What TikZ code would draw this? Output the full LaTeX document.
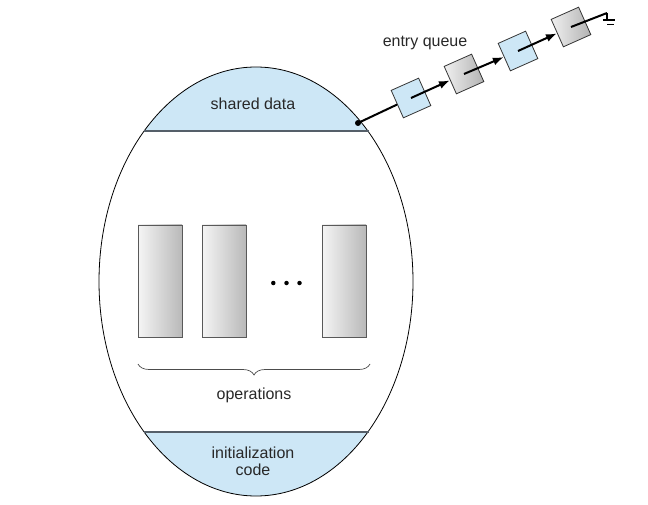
\documentclass[tikz,border=0pt]{standalone}
\usepackage{fontspec}
\setmainfont{Liberation Sans}
\usetikzlibrary{arrows.meta,decorations.pathreplacing,shapes.geometric}
\definecolor{lblue}{RGB}{205,231,246}
\definecolor{txt}{RGB}{40,40,40}
\definecolor{sepline}{RGB}{85,95,105}
\tikzset{
  lbl/.style={text=txt,font=\fontsize{16}{19}\selectfont,align=center},
  oprect/.style={draw=black!65,line width=0.8pt,left color=gray!8,right color=gray!55,minimum width=44,minimum height=112,inner sep=0},
  qbox/.style={draw=black!80,line width=0.8pt,minimum size=30,inner sep=0,rotate=24},
  qblue/.style={qbox,fill=lblue},
  qgray/.style={qbox,left color=gray!12,right color=gray!60},
  qline/.style={line width=2pt,black},
  qarrow/.style={qline,-{Latex[length=11pt,width=8pt]}},
  dotmark/.style={circle,fill=black,inner sep=0,minimum size=4.5},
}
\begin{document}
\begin{tikzpicture}[x=1pt,y=-1pt]
\useasboundingbox (0,0) rectangle (648,505);
% ellipse regions
\begin{scope}
  \clip (256,281.5) ellipse [x radius=157, y radius=214.5];
  \fill[lblue] (90,60) rectangle (420,131);
  \fill[lblue] (90,432) rectangle (420,500);
\end{scope}
\node[draw=black,line width=0.8pt,ellipse,minimum width=314,minimum height=429,inner sep=0] (ell) at (256,281.5) {};
\draw[sepline,line width=1.5pt] (143.5,131) -- (368.5,131);
\draw[sepline,line width=1.5pt] (143.5,432) -- (368.5,432);
\node[lbl] (sd) at (253,104) {shared data};
\node[lbl] (ic) at (253,461) {initialization\\[-2pt]code};
% operations
\node[oprect] (op1) at (160,281) {};
\node[oprect] (op2) at (224,281) {};
\node[oprect] (op3) at (344,281) {};
\node[dotmark] (d1) at (273.3,283) {};
\node[dotmark] (d2) at (286.5,283) {};
\node[dotmark] (d3) at (299.5,283) {};
\coordinate (bl) at (138,364);
\coordinate (br) at (370,364);
\draw[black!70,line width=0.7pt,decorate,decoration={brace,mirror,amplitude=11pt}] (bl) -- (br);
\node[lbl] (ops) at (254,395) {operations};
% entry queue
\coordinate (dot) at (358,123);
\node[qblue] (q1) at (411,98) {};
\node[qgray] (q2) at (464,74) {};
\node[qblue] (q3) at (518,51) {};
\node[qgray] (q4) at (571,27) {};
\draw[qline] (dot) -- (q1);
\fill (dot) circle (3pt);
\draw[qarrow] (q1.center) -- (q2);
\draw[qarrow] (q2.center) -- (q3);
\draw[qarrow] (q3.center) -- (q4);
\coordinate (gnd) at (607,13);
\draw[qline] (q4.center) -- (gnd);
\draw[line width=1.1pt] (gnd) -- ++(0,7) coordinate (gs);
\draw[line width=1.1pt] (gs) ++(-4,0) -- ++(12,0);
\draw[line width=1.1pt] (gs) ++(0,4.5) -- ++(7,0);
\node[lbl] (eq) at (425,43) {entry queue};
\end{tikzpicture}
\end{document}
